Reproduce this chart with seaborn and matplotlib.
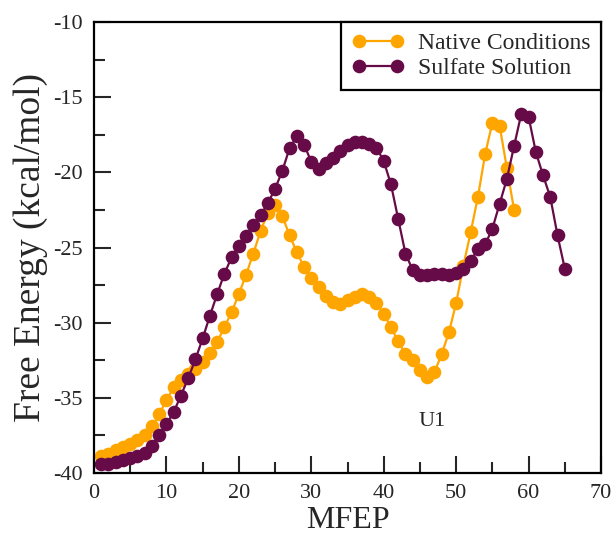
import matplotlib
matplotlib.use("Agg")
import matplotlib.pyplot as plt
from matplotlib.ticker import MultipleLocator
import seaborn as sns
import pandas as pd
import numpy as np

# Native conditions, MFEP 1..58
native_x = list(range(1, 59))
native_y = [-38.85, -38.75, -38.5, -38.3, -38.1, -37.8, -37.5, -36.9, -36.1, -35.15,
            -34.3, -33.8, -33.4, -33.1, -32.6, -32.05, -31.3, -30.3, -29.3, -28.1,
            -26.8, -25.4, -23.9, -22.7, -22.2, -22.9, -24.2, -25.3, -26.3, -27.0,
            -27.65, -28.2, -28.6, -28.75, -28.5, -28.3, -28.1, -28.3, -28.7, -29.4,
            -30.3, -31.25, -32.1, -32.5, -33.15, -33.6, -33.3, -32.1, -30.65, -28.7,
            -26.2, -24.0, -21.65, -18.8, -16.7, -16.9, -19.7, -22.5]

# Sulfate solution, MFEP 1..65
sulfate_x = list(range(1, 66))
sulfate_y = [-39.4, -39.38, -39.27, -39.15, -39.0, -38.87, -38.65, -38.2, -37.5, -36.75,
             -35.95, -34.85, -33.7, -32.45, -31.05, -29.55, -28.1, -26.75, -25.65, -24.9,
             -24.25, -23.5, -22.85, -22.05, -21.1, -19.9, -18.4, -17.6, -18.15, -19.3,
             -19.75, -19.4, -19.05, -18.6, -18.15, -17.95, -18.0, -18.1, -18.35, -19.25,
             -20.8, -23.1, -25.4, -26.5, -26.8, -26.85, -26.75, -26.75, -26.8, -26.7,
             -26.4, -25.9, -25.1, -24.8, -23.75, -22.1, -20.45, -18.25, -16.1, -16.3,
             -18.65, -20.2, -21.65, -24.2, -26.4]

labels = ["Native Conditions", "Sulfate Solution"]
colors = ["#FFA500", "#670A48"]

df = pd.concat([
    pd.DataFrame({"MFEP": native_x, "G": native_y, "cond": labels[0]}),
    pd.DataFrame({"MFEP": sulfate_x, "G": sulfate_y, "cond": labels[1]}),
])

sns.set_style("ticks")
plt.rcParams["font.family"] = ["Liberation Serif", "DejaVu Serif"]
plt.rcParams["axes.unicode_minus"] = False

fig = plt.figure(figsize=(6.13, 5.35), dpi=100)
ax = fig.add_axes([94 / 613, (535 - 473) / 535, 507 / 613, 451 / 535])

sns.lineplot(data=df, x="MFEP", y="G", hue="cond", palette=colors,
             marker="o", markersize=9.8, markeredgewidth=0, linewidth=1.6,
             sort=False, ax=ax)

ax.set_xlim(0, 70)
ax.set_ylim(-40, -10)
ax.xaxis.set_major_locator(MultipleLocator(10))
ax.xaxis.set_minor_locator(MultipleLocator(5))
ax.yaxis.set_major_locator(MultipleLocator(5))
ax.yaxis.set_minor_locator(MultipleLocator(2.5))
ax.tick_params(which="both", direction="in", top=False, right=False,
               labelsize=16, width=1.5, pad=8)
ax.tick_params(which="major", length=12)
ax.tick_params(which="minor", length=8)
for s in ax.spines.values():
    s.set_linewidth(1.6)
    s.set_color("black")

ax.set_xlabel("MFEP", fontsize=23, labelpad=2)
ax.set_ylabel("Free Energy (kcal/mol)", fontsize=27, labelpad=4)

ax.text(46.7, -36.6, "U1", fontsize=16, ha="center", va="center")

leg = ax.legend(loc="upper right", fontsize=17, frameon=True, fancybox=False,
                borderaxespad=0, handlelength=2.2, numpoints=2, borderpad=0.45,
                handletextpad=0.6, labelspacing=0.15)
leg.get_frame().set_edgecolor("black")
leg.get_frame().set_linewidth(1.6)
leg.get_frame().set_alpha(1)

fig.savefig("out.png", dpi=100)
